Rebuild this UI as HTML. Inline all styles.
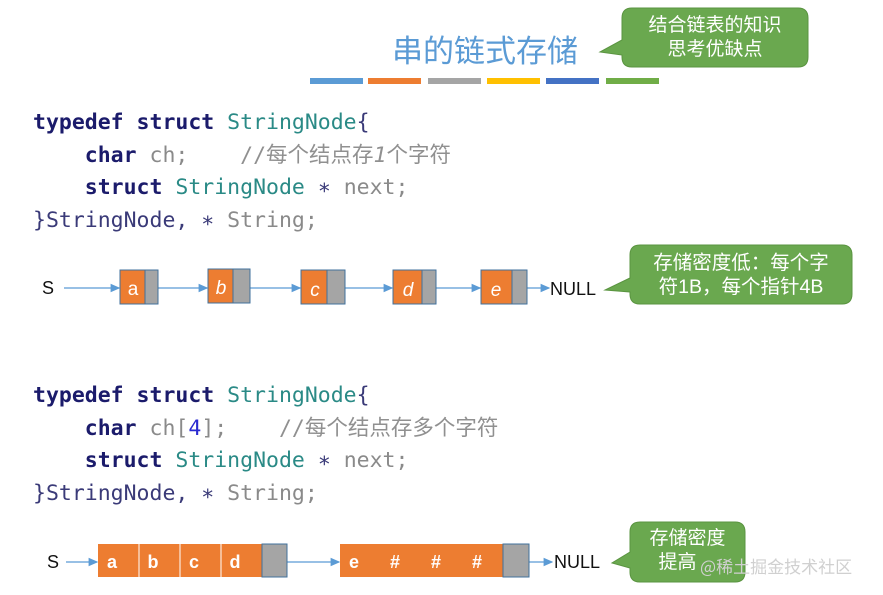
<!DOCTYPE html>
<html><head><meta charset="utf-8"><style>
body{margin:0;background:#fff;}
#w{position:relative;width:883px;height:595px;overflow:hidden;font-family:"Liberation Sans","Noto Sans CJK SC",sans-serif;}
.code{position:absolute;left:33px;font-family:"DejaVu Sans Mono","Noto Sans CJK SC",monospace;font-size:21.5px;line-height:32.6px;white-space:pre;color:#333;}
.k{color:#1b1b6b;font-weight:bold}
.t{color:#2a8a86}
.g{color:#8a8a8a}
.p{color:#3a3a78}
.n{color:#2a2ad0}
.cm{color:#909090}
.lbl{position:absolute;font-size:18px;color:#111;}
.co{position:absolute;color:#fff;font-size:19px;line-height:24px;text-align:center;font-family:"Liberation Sans","Noto Sans CJK SC",sans-serif;}
</style></head><body><div id="w">
<svg width="883" height="595" style="position:absolute;left:0;top:0">
<defs><marker id="ar" markerWidth="8" markerHeight="8" refX="7" refY="4" orient="auto"><path d="M0,0.5 L8,4 L0,7.5z" fill="#5b9bd5"/></marker></defs>
<rect x="310" y="78" width="53" height="6" fill="#5b9bd5"/>
<rect x="368" y="78" width="53" height="6" fill="#ed7d31"/>
<rect x="428" y="78" width="53" height="6" fill="#a5a5a5"/>
<rect x="487" y="78" width="53" height="6" fill="#ffc000"/>
<rect x="546" y="78" width="53" height="6" fill="#4472c4"/>
<rect x="606" y="78" width="53" height="6" fill="#70ad47"/>
<path d="M632,8 H798 Q808,8 808,18 V57 Q808,67 798,67 H632 Q622,67 622,57 V55 L600,52 L622,40 V18 Q622,8 632,8z" fill="#6aa84f" stroke="#5a9440"/>
<path d="M640,245 H842 Q852,245 852,255 V294 Q852,304 842,304 H640 Q630,304 630,294 V292 L605,290 L630,278 V255 Q630,245 640,245z" fill="#6aa84f" stroke="#5a9440"/>
<path d="M640,522 H735 Q745,522 745,532 V572 Q745,582 735,582 H640 Q630,582 630,572 V568 L612,563 L630,552 V532 Q630,522 640,522z" fill="#6aa84f" stroke="#5a9440"/>
<g stroke="#5b9bd5" stroke-width="1.2" fill="none" marker-end="url(#ar)">
<line x1="64" y1="288" x2="119" y2="288"/>
<line x1="158" y1="288" x2="207" y2="288"/>
<line x1="250" y1="288" x2="300" y2="288"/>
<line x1="345" y1="288" x2="392" y2="288"/>
<line x1="436" y1="288" x2="480" y2="288"/>
<line x1="527" y1="288" x2="549" y2="288"/>
<line x1="66" y1="562" x2="97" y2="562"/>
<line x1="287" y1="562" x2="339" y2="562"/>
<line x1="529" y1="562" x2="552" y2="562"/>
</g>
<g stroke="#41719c" stroke-width="1">
<rect x="120" y="270" width="25" height="34" fill="#ed7d31"/><rect x="145" y="270" width="13" height="34" fill="#a5a5a5"/>
<rect x="208" y="269" width="25" height="34" fill="#ed7d31"/><rect x="233" y="269" width="17" height="34" fill="#a5a5a5"/>
<rect x="301" y="270" width="26" height="34" fill="#ed7d31"/><rect x="327" y="270" width="18" height="34" fill="#a5a5a5"/>
<rect x="393" y="270" width="29" height="34" fill="#ed7d31"/><rect x="422" y="270" width="14" height="34" fill="#a5a5a5"/>
<rect x="481" y="270" width="31" height="34" fill="#ed7d31"/><rect x="512" y="270" width="15" height="34" fill="#a5a5a5"/>
</g>
<rect x="98" y="544" width="164" height="33" fill="#ed7d31"/>
<g stroke="#fff" stroke-width="1"><line x1="139" y1="544" x2="139" y2="577"/><line x1="180" y1="544" x2="180" y2="577"/><line x1="221" y1="544" x2="221" y2="577"/>
<line x1="381" y1="544" x2="381" y2="577"/><line x1="422" y1="544" x2="422" y2="577"/><line x1="463" y1="544" x2="463" y2="577"/></g>
<rect x="262" y="544" width="25" height="33" fill="#a5a5a5" stroke="#41719c"/>
<rect x="340" y="544" width="163" height="33" fill="#ed7d31"/>
<rect x="503" y="544" width="26" height="33" fill="#a5a5a5" stroke="#41719c"/>
<g fill="#fff" font-family="Liberation Sans" font-size="19" text-anchor="middle">
<text x="133" y="295">a</text>
<text x="221" y="294" font-style="italic">b</text>
<text x="315" y="296" font-style="italic">c</text>
<text x="408" y="296" font-style="italic">d</text>
<text x="496" y="296" font-style="italic">e</text>
<g font-weight="bold" font-size="18">
<text x="112" y="568">a</text><text x="153" y="568">b</text><text x="194" y="568">c</text><text x="235" y="568">d</text>
<text x="354" y="568">e</text><text x="395" y="568">#</text><text x="436" y="568">#</text><text x="477" y="568">#</text>
</g></g>
</svg>
<div style="position:absolute;left:392px;top:29px;font-size:31px;color:#5b9bd5;font-family:'Noto Sans CJK SC',sans-serif;line-height:40px">串的链式存储</div>
<div class="co" style="left:622px;top:14px;width:186px">结合链表的知识<br>思考优缺点</div>
<div class="co" style="left:630px;top:251px;width:222px;font-size:19.5px">存储密度低：每个字<br>符1B，每个指针4B</div>
<div class="co" style="left:630px;top:527px;width:115px">存储密度<br><span style="margin-left:-20px">提高</span></div>
<div style="position:absolute;left:700px;top:553px;font-size:17px;color:#d0d0d0;font-family:'Noto Sans CJK SC',sans-serif">@稀土掘金技术社区</div>
<div class="lbl" style="left:42px;top:278px">S</div>
<div class="lbl" style="left:550px;top:279px">NULL</div>
<div class="lbl" style="left:47px;top:552px">S</div>
<div class="lbl" style="left:554px;top:552px">NULL</div>
<div class="code" style="top:107px"><span class="k">typedef struct</span> <span class="t">StringNode</span><span class="p">{</span>
    <span class="k">char</span> <span class="g">ch;</span>    <span class="cm">//每个结点存<i>1</i>个字符</span>
    <span class="k">struct</span> <span class="t">StringNode</span> <span class="p">∗</span> <span class="g">next;</span>
<span class="p">}StringNode, ∗</span> <span class="g">String;</span></div>
<div class="code" style="top:380px"><span class="k">typedef struct</span> <span class="t">StringNode</span><span class="p">{</span>
    <span class="k">char</span> <span class="g">ch[</span><span class="n">4</span><span class="g">];</span>    <span class="cm">//每个结点存多个字符</span>
    <span class="k">struct</span> <span class="t">StringNode</span> <span class="p">∗</span> <span class="g">next;</span>
<span class="p">}StringNode, ∗</span> <span class="g">String;</span></div>
</div></body></html>
